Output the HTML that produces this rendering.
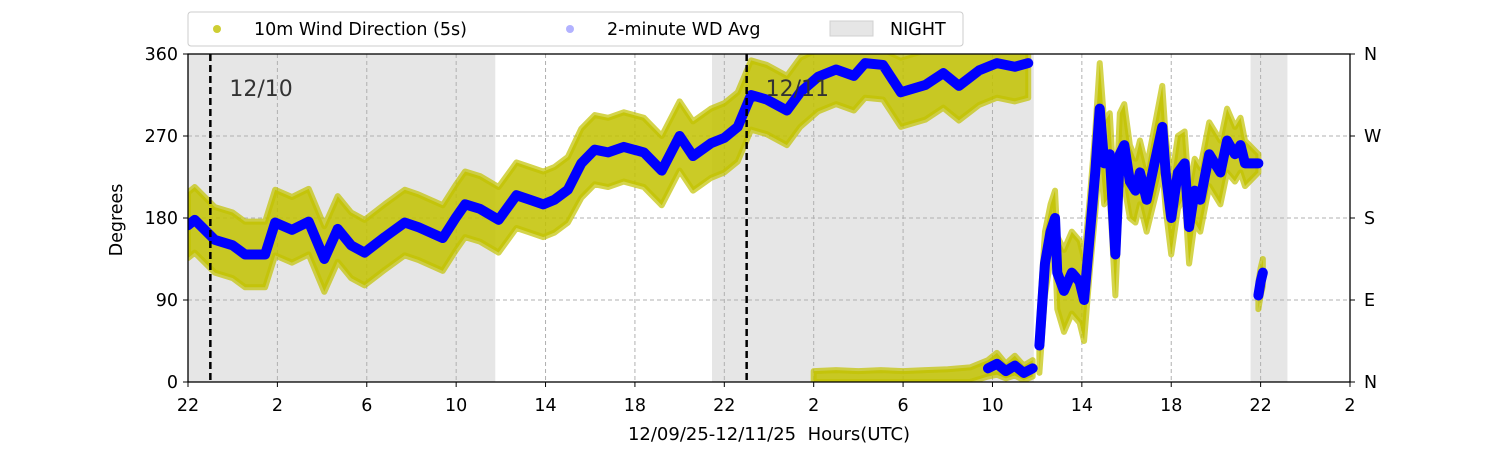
<!DOCTYPE html>
<html><head><meta charset="utf-8"><style>
body{margin:0;background:#fff;width:1500px;height:450px;overflow:hidden;font-family:"DejaVu Sans","Liberation Sans",sans-serif}
text{white-space:pre}
</style></head><body>
<svg id="chart" width="1500" height="450" xmlns="http://www.w3.org/2000/svg" font-family="DejaVu Sans, Liberation Sans, sans-serif"></svg>
<script>
const times=[0,0.3,1.2,2,2.55,3.45,3.9,4.65,5.4,6.1,6.7,7.3,7.9,8.8,9.7,10.3,11.4,12,12.4,13.07,13.9,14.7,15.3,15.9,16.4,17,17.6,18.2,18.8,19.5,20.4,21.2,22,22.6,23.4,24,24.6,25.2,25.9,26.8,27.4,28.2,29,29.8,30.3,31.1,31.9,33,33.8,34.5,35.4,36.2,37,37.6];
const avgDeg=[172,178,156,150,140,140,175,167,176,135,168,150,142,159,175,170,158,181,195,190,178,205,200,195,200,211,240,255,252,258,252,232,270,248,262,268,280,315,310,298,318,335,343,336,350,348,318,326,339,325,342,350,346,350];
const spreadDeg=[36,36,36,36,36,36,36,36,36,36,36,36,36,36,36,36,36,36,36,36,36,36,36,36,36,36,38,38,38,38,38,38,38,38,38,38,38,38,38,38,38,38,38,38,38,38,38,38,38,38,38,38,38,38];
const chaosTimes=[38.1,38.35,38.6,38.8,38.9,39.2,39.55,39.9,40.1,40.35,40.6,40.8,41.0,41.25,41.5,41.7,41.9,42.15,42.4,42.6,42.9,43.25,43.6,43.75,44.0,44.3,44.6,44.8,45.05,45.3,45.7,46.2,46.5,46.85,47.1,47.3,47.9];
const chaosDeg=[40,130,165,180,120,100,120,110,90,160,230,300,240,250,140,250,260,220,210,230,200,240,280,230,180,230,240,170,210,200,250,230,265,250,260,240,240];
const chaosSpread=[30,35,30,30,40,45,45,45,45,40,45,50,45,45,45,45,45,40,35,35,35,40,45,40,40,40,35,40,35,35,35,35,35,30,30,25,10];
const wrapTimes=[28,29,30,31,32,33,34,35,35.8,36.2,36.6,37,37.4,37.8];
const wrapDeg=[4,5,4,5,4,5,6,8,15,20,12,18,10,15];
const lateTimes=[47.9,48.0,48.1];
const lateDeg=[95,110,120];
const xTickLabels=["22","2","6","10","14","18","22","2","6","10","14","18","22","2"];
const yTicks=[0,90,180,270,360];
const compass=["N","E","S","W","N"];
const nightSpans=[[0,13.75],[23.45,37.85],[47.55,49.2]];
const dayLines=[[1,"12/10"],[25,"12/11"]];

const NS="http://www.w3.org/2000/svg";
const svg=document.getElementById('chart');
const X0=188,X1=1350,Y0=382,Y1=54,H=52;
const xs=h=>X0+(X1-X0)*h/H;
const ys=d=>Y0-(Y0-Y1)*d/360;
function el(tag,attrs,parent){const e=document.createElementNS(NS,tag);for(const k in attrs)e.setAttribute(k,attrs[k]);(parent||svg).appendChild(e);return e;}

const clip=el('clipPath',{id:'pc'});el('rect',{x:X0,y:Y1,width:X1-X0,height:Y0-Y1},clip);

nightSpans.forEach(s=>{const r=el('rect',{x:xs(s[0]),y:Y1,width:xs(s[1])-xs(s[0]),height:Y0-Y1,fill:'#e6e6e6'});

});

xTickLabels.forEach((t,i)=>{if(i>0&&i<xTickLabels.length-1){const l=el('line',{x1:xs(i*4),x2:xs(i*4),y1:Y1,y2:Y0,stroke:'#b0b0b0','stroke-dasharray':'4,3'});

}});
yTicks.forEach(v=>{if(v>0&&v<360){const l=el('line',{x1:X0,x2:X1,y1:ys(v),y2:ys(v),stroke:'#b0b0b0','stroke-dasharray':'4,3'});

}});

const g=el('g',{'clip-path':'url(#pc)'});
function band(ts,vs,sp,name){let top=[],bot=[];ts.forEach((t,i)=>{top.push(xs(t)+','+ys(Math.min(365,vs[i]+sp[i])));bot.unshift(xs(t)+','+ys(Math.max(0,vs[i]-sp[i])));});
const p=el('polygon',{points:top.concat(bot).join(' '),fill:'#c2c200','fill-opacity':0.85,stroke:'#c2c200','stroke-width':6,'stroke-linejoin':'round','stroke-opacity':0.7},g);

}
band(times,avgDeg,spreadDeg,'wind-5s-band-main');
band(chaosTimes,chaosDeg,chaosSpread,'wind-5s-band-afternoon');
band(wrapTimes,wrapDeg,wrapDeg.map(v=>Math.max(8,v*0.6)),'wind-5s-band-wrap');
band(lateTimes,lateDeg,[15,15,15],'wind-5s-band-late');
function line(ts,vs,name){const p=el('polyline',{points:ts.map((t,i)=>xs(t)+','+ys(vs[i])).join(' '),fill:'none',stroke:'#0000ff','stroke-width':10,'stroke-linejoin':'round','stroke-linecap':'round'},g);

}
line(times,avgDeg,'wd-avg-main');
line(chaosTimes,chaosDeg,'wd-avg-afternoon');
line(wrapTimes.filter(t=>t>=35.8),wrapDeg.filter((v,i)=>wrapTimes[i]>=35.8),'wd-avg-wrap');
line(lateTimes,lateDeg,'wd-avg-late');

dayLines.forEach(d=>{const l=el('line',{x1:xs(d[0]),x2:xs(d[0]),y1:Y1,y2:Y0,stroke:'#000','stroke-width':2.5,'stroke-dasharray':'7,4'});


const t=el('text',{x:xs(d[0])+19,y:96,'font-size':22,fill:'#333'});t.textContent=d[1];

});

const fr=el('rect',{x:X0,y:Y1,width:X1-X0,height:Y0-Y1,fill:'none',stroke:'#000','stroke-width':1.3});



xTickLabels.forEach((t,i)=>{const x=xs(i*4);el('line',{x1:x,x2:x,y1:Y0,y2:Y0+5,stroke:'#000'});
const tx=el('text',{x:x,y:Y0+29,'font-size':17.5,'text-anchor':'middle'});tx.textContent=t;

});
yTicks.forEach((v,i)=>{const y=ys(v);el('line',{x1:X0-5,x2:X0,y1:y,y2:y,stroke:'#000'});el('line',{x1:X1,x2:X1+5,y1:y,y2:y,stroke:'#000'});
const a=el('text',{x:X0-10,y:y+6,'font-size':17.5,'text-anchor':'end'});a.textContent=v;


const b=el('text',{x:X1+14,y:y+6,'font-size':17.5});b.textContent=compass[i];

});

const yt=el('text',{x:122,y:220,'font-size':17.5,'text-anchor':'middle',transform:'rotate(-90 122 220)'});yt.textContent='Degrees';


const xt=el('text',{x:769,y:440,'font-size':18,'text-anchor':'middle'});xt.textContent='12/09/25-12/11/25  Hours(UTC)';



const lg=el('g',{});


el('rect',{x:188,y:12,width:775,height:34,rx:3,fill:'#fff',stroke:'#ccc'},lg);
el('circle',{cx:217,cy:29,r:4,fill:'#c2c200','fill-opacity':0.8},lg);
let t1=el('text',{x:254,y:35,'font-size':17.5},lg);t1.textContent='10m Wind Direction (5s)';


el('circle',{cx:570,cy:29,r:4,fill:'#0000ff','fill-opacity':0.3},lg);
let t2=el('text',{x:607,y:35,'font-size':17.5},lg);t2.textContent='2-minute WD Avg';


el('rect',{x:830,y:21,width:43,height:15,fill:'#e6e6e6',stroke:'#d0d0d0'},lg);
let t3=el('text',{x:890,y:35,'font-size':17.5},lg);t3.textContent='NIGHT';


</script>
</body></html>
